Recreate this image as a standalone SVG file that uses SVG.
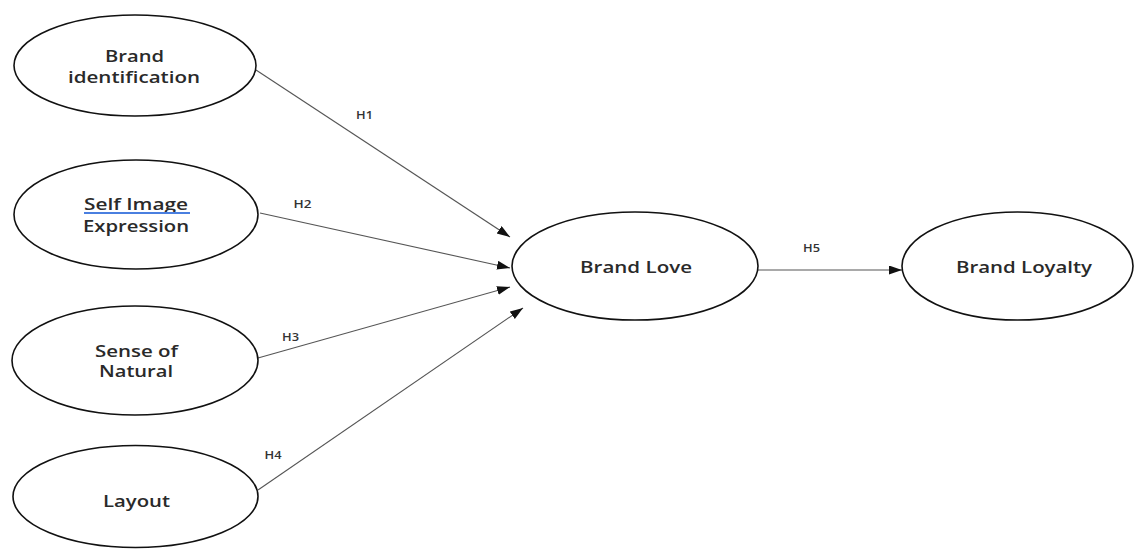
<svg xmlns="http://www.w3.org/2000/svg" width="1134" height="550" viewBox="0 0 1134 550">
<style>
.node{fill:#fff;stroke:#111;stroke-width:1.6}
.lbl{font-family:"Open Sans","Liberation Sans",sans-serif;font-size:16px;font-weight:600;fill:#2a2a2a;text-anchor:middle}
.h{font-family:"Open Sans","Liberation Sans",sans-serif;font-size:11px;font-weight:600;fill:#333;text-anchor:middle}
.edge{stroke:#555;stroke-width:1.1;fill:none;marker-end:url(#arr)}
</style>
<defs>
<marker id="arr" markerUnits="userSpaceOnUse" markerWidth="14" markerHeight="10" refX="13" refY="4.5" orient="auto">
<path d="M0,0 L13,4.5 L0,9 z" fill="#111"/>
</marker>
</defs>
<rect width="1134" height="550" fill="#fff"/>
<g id="connectors">
<line class="edge" x1="256" y1="70" x2="510" y2="237"/>
<line class="edge" x1="260" y1="213" x2="510" y2="268"/>
<line class="edge" x1="258" y1="358" x2="510" y2="287"/>
<line class="edge" x1="258" y1="490" x2="523" y2="308"/>
<line class="edge" x1="758" y1="270" x2="902" y2="270"/>
<text class="h" x="364.5" y="119" textLength="17" lengthAdjust="spacingAndGlyphs">H1</text>
<text class="h" x="302.5" y="208" textLength="18" lengthAdjust="spacingAndGlyphs">H2</text>
<text class="h" x="290.5" y="341" textLength="17" lengthAdjust="spacingAndGlyphs">H3</text>
<text class="h" x="273" y="459" textLength="17" lengthAdjust="spacingAndGlyphs">H4</text>
<text class="h" x="811.5" y="252" textLength="17" lengthAdjust="spacingAndGlyphs">H5</text>
</g>
<g id="brand-identification">
<ellipse class="node" cx="135" cy="65.5" rx="121" ry="50.5"/>
<text class="lbl" x="134.5" y="62" textLength="59" lengthAdjust="spacingAndGlyphs">Brand</text>
<text class="lbl" x="134" y="83" textLength="132" lengthAdjust="spacingAndGlyphs">identification</text>
</g>
<g id="self-image-expression">
<ellipse class="node" cx="136" cy="214.5" rx="122" ry="54.5"/>
<text class="lbl" x="136" y="210" textLength="104" lengthAdjust="spacingAndGlyphs">Self Image</text>
<line x1="84" y1="213" x2="190" y2="213" stroke="#4a7fe0" stroke-width="2"/>
<text class="lbl" x="136" y="232" textLength="106" lengthAdjust="spacingAndGlyphs">Expression</text>
</g>
<g id="sense-of-natural">
<ellipse class="node" cx="135" cy="360.5" rx="123" ry="54.5"/>
<text class="lbl" x="136.5" y="357" textLength="83" lengthAdjust="spacingAndGlyphs">Sense of</text>
<text class="lbl" x="136" y="377" textLength="74" lengthAdjust="spacingAndGlyphs">Natural</text>
</g>
<g id="layout">
<ellipse class="node" cx="135.5" cy="496.5" rx="122.5" ry="51"/>
<text class="lbl" x="136.5" y="507" textLength="67" lengthAdjust="spacingAndGlyphs">Layout</text>
</g>
<g id="brand-love">
<ellipse class="node" cx="635" cy="266" rx="123" ry="54"/>
<text class="lbl" x="636" y="273" textLength="112" lengthAdjust="spacingAndGlyphs">Brand Love</text>
</g>
<g id="brand-loyalty">
<ellipse class="node" cx="1017.5" cy="266" rx="115.5" ry="54"/>
<text class="lbl" x="1024" y="273" textLength="136" lengthAdjust="spacingAndGlyphs">Brand Loyalty</text>
</g>
</svg>
